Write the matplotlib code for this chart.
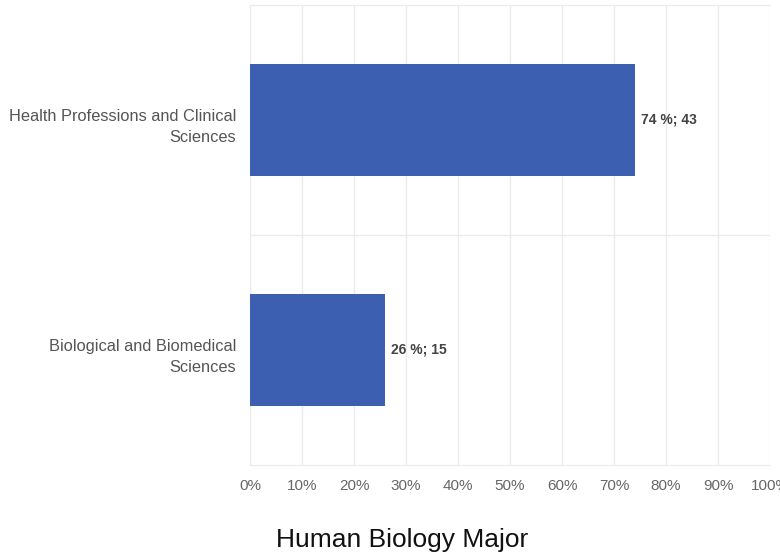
import numpy as np
import matplotlib
matplotlib.use('Agg')
import matplotlib.pyplot as plt

matplotlib.rcParams['font.family'] = ['Liberation Sans', 'DejaVu Sans']

categories = ['Health Professions and Clinical\nSciences',
              'Biological and Biomedical\nSciences']
percents = [74, 26]
counts = [43, 15]
xticks = list(range(0, 101, 10))

BAR_COLOR = '#3d5fb1'
GRID_COLOR = '#ebebeb'

fig = plt.figure(figsize=(7.8, 5.55), dpi=100)
ax = fig.add_axes([250 / 780, 1 - 465 / 555, 520 / 780, 460 / 555])

ypos = np.arange(len(categories))
ax.barh(ypos, percents, height=0.49, color=BAR_COLOR, zorder=3)

for y, p, c in zip(ypos, percents, counts):
    ax.text(p + 1.1, y, f'{p} %; {c}', va='center', ha='left',
            fontsize=10, fontweight='bold', color='#444444')

ax.set_xlim(0, 100)
ax.set_ylim(len(categories) - 0.5, -0.5)
ax.set_xticks(xticks)
ax.set_xticklabels([f'{t}%' for t in xticks], color='#666666', fontsize=11)
ax.set_yticks(ypos + 0.012)
ax.set_yticklabels(categories, color='#555555', fontsize=11.8, linespacing=1.45)
ax.tick_params(axis='both', length=0)
ax.tick_params(axis='x', pad=10)
ax.tick_params(axis='y', pad=10)

ax.grid(axis='x', color=GRID_COLOR, linewidth=1, zorder=0)
for b in np.arange(len(categories) - 1) + 0.5:
    ax.axhline(b, color=GRID_COLOR, linewidth=1, zorder=0)
for s in ax.spines.values():
    s.set_color(GRID_COLOR)
ax.spines['right'].set_visible(False)

fig.text(402 / 780, 1 - 540 / 555, 'Human Biology Major', ha='center',
         va='center', fontsize=19, color='#111111')

fig.savefig('out.png', dpi=100)
